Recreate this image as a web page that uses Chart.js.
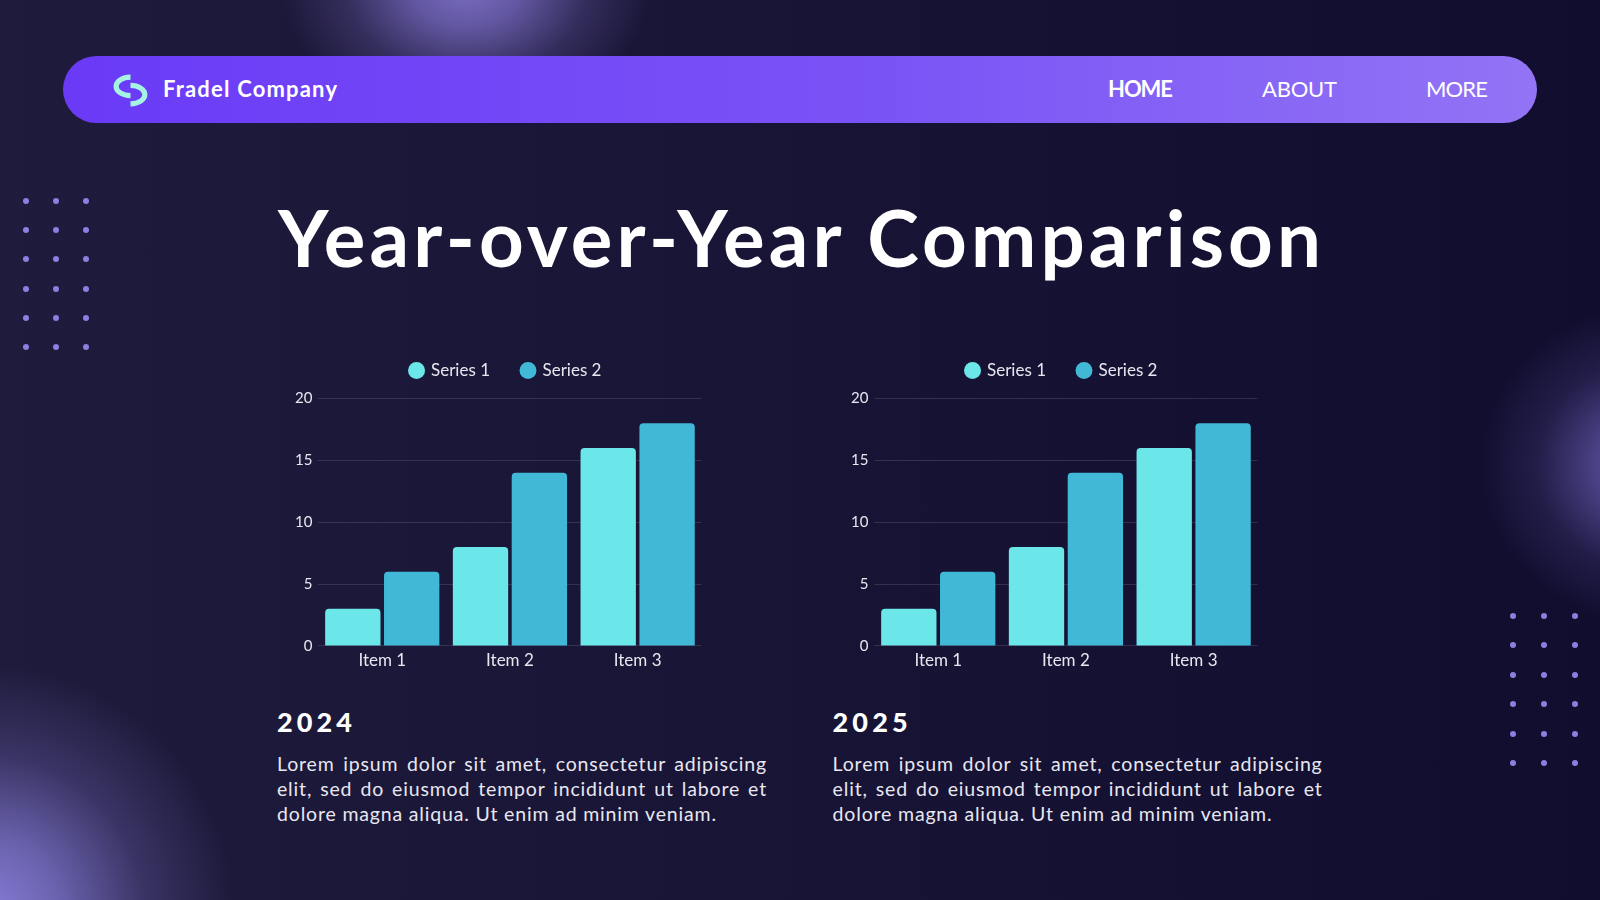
<!DOCTYPE html>
<html>
<head>
<meta charset="utf-8">
<title>Year-over-Year Comparison</title>
<script src="https://cdn.jsdelivr.net/npm/chart.js@4.4.1/dist/chart.umd.min.js"></script>
<style>
  html, body { margin: 0; padding: 0; }
  body {
    width: 1600px; height: 900px; overflow: hidden; position: relative;
    font-family: Lato, "Noto Sans", sans-serif; color: #fff;
    background:
      radial-gradient(ellipse 185px 140px at 467px -15px, rgba(128,114,205,0.95) 0%, rgba(128,114,205,0.7) 30%, rgba(128,114,205,0.25) 65%, rgba(128,114,205,0) 100%),
      radial-gradient(ellipse 250px 250px at -15px 915px, rgba(136,126,218,1) 0%, rgba(136,126,218,0.72) 30%, rgba(136,126,218,0.25) 65%, rgba(136,126,218,0) 100%),
      radial-gradient(ellipse 165px 160px at 1645px 465px, rgba(104,94,180,0.95) 0%, rgba(104,94,180,0.65) 30%, rgba(104,94,180,0.2) 65%, rgba(104,94,180,0) 100%),
      linear-gradient(90deg, #1f1b3c 0%, #181435 50%, #110d2e 100%);
  }
  .t { position: absolute; white-space: nowrap; display: inline-block; line-height: 1; }
  .nav {
    position: absolute; left: 63px; top: 56px; width: 1474px; height: 67px; border-radius: 34px;
    background: linear-gradient(90deg, #6a3af7 0%, #7a53f6 55%, #9274f5 100%);
  }
  .dot { position: absolute; width: 6px; height: 6px; border-radius: 50%; background: #8b80e2; }
  .chartBox { position: absolute; top: 320px; width: 470px; height: 370px; }
  .p { font-size: 19.5px; color: #e8e7f0; }
</style>
</head>
<body>
<div class="nav"></div>
<svg style="position:absolute;left:112px;top:73px" width="37" height="35" viewBox="0 0 36 34">
  <path d="M18 4 A14 9 0 0 0 18 22" fill="none" stroke="#a7f3e3" stroke-width="5"/>
  <path d="M18 12 A14 9 0 0 1 18 30" fill="none" stroke="#a7f3e3" stroke-width="5"/>
</svg>
<div class="t fit" data-w="174" style="left:163px;top:77.5px;font-size:22px;font-weight:700;">Fradel Company</div>
<div class="t fit" data-w="65" style="left:1108px;top:78.2px;font-size:22px;font-weight:700;">HOME</div>
<div class="t fit" data-w="75" style="left:1262px;top:78.2px;font-size:22px;font-weight:400;">ABOUT</div>
<div class="t fit" data-w="62" style="left:1426px;top:78.2px;font-size:22px;font-weight:400;">MORE</div>

<div class="t fit" data-w="1043" style="left:278px;top:197.8px;font-size:78px;font-weight:700;">Year-over-Year Comparison</div>

<div class="chartBox" style="left:270px"><canvas id="chart2024" width="470" height="370"></canvas></div>
<div class="chartBox" style="left:825.6px"><canvas id="chart2025" width="470" height="370"></canvas></div>

<div class="t fit" data-w="75" style="left:277px;top:708px;font-size:27px;font-weight:900;">2024</div>
<div class="t fit" data-w="75" style="left:832.6px;top:708px;font-size:27px;font-weight:900;">2025</div>

<div class="para" data-left="277"></div>
<div class="para" data-left="832.6"></div>

<script>
// chart data
const categories = ['Item 1', 'Item 2', 'Item 3'];
const seriesNames = ['Series 1', 'Series 2'];
const series1_2024 = [3, 8, 16];
const series2_2024 = [6, 14, 18];
const series1_2025 = [3, 8, 16];
const series2_2025 = [6, 14, 18];
const yTicks = [0, 5, 10, 15, 20];

const bodyLines = [
  'Lorem ipsum dolor sit amet, consectetur adipiscing',
  'elit, sed do eiusmod tempor incididunt ut labore et',
  'dolore magna aliqua. Ut enim ad minim veniam.'
];

const COLOR_S1 = '#6be6e9';
const COLOR_S2 = '#40b8d6';
const TEXT = '#e8e7f0';

// decorative dot grids
function dots(xs, y0, step) {
  for (let r = 0; r < 6; r++) {
    xs.forEach(x => {
      const d = document.createElement('div');
      d.className = 'dot';
      d.style.left = (x - 3) + 'px';
      d.style.top = (y0 + r * step - 3) + 'px';
      document.body.appendChild(d);
    });
  }
}
dots([25.7, 55.7, 86], 200.7, 29.3);
dots([1513, 1544, 1574.5], 616, 29.4);

// text width fitting (Raleway is not installed)
document.querySelectorAll('.fit').forEach(el => {
  const w = parseFloat(el.dataset.w);
  const r = el.getBoundingClientRect().width;
  el.style.letterSpacing = ((w - r) / (el.textContent.length - 1)) + 'px';
});

const baselines = [771.7, 796.7, 821.4];
document.querySelectorAll('.para').forEach(box => {
  const left = parseFloat(box.dataset.left);
  const els = bodyLines.map((txt, i) => {
    const el = document.createElement('div');
    el.className = 't p';
    el.textContent = txt;
    el.style.left = left + 'px';
    el.style.top = (baselines[i] - 0.887 * 19.5) + 'px';
    document.body.appendChild(el);
    return el;
  });
  // last line sets the letter spacing, the others are justified
  const last = els[2];
  const ls = (439 - last.getBoundingClientRect().width) / (last.textContent.length - 1);
  els.forEach(el => el.style.letterSpacing = ls + 'px');
  els.slice(0, 2).forEach(el => {
    const w = el.getBoundingClientRect().width;
    const spaces = el.textContent.split(' ').length - 1;
    el.style.wordSpacing = ((490 - w) / spaces) + 'px';
  });
});

// extra room between legend and plot
const legendGap = {
  id: 'legendGap',
  beforeInit(chart) {
    const fit = chart.legend.fit;
    chart.legend.fit = function () {
      fit.call(this);
      this.height += 9.5;
    };
  }
};

function buildChart(id, s1, s2) {
  return new Chart(document.getElementById(id), {
    type: 'bar',
    data: {
      labels: categories,
      datasets: [
        { label: seriesNames[0], data: s1, backgroundColor: COLOR_S1, borderRadius: 4, borderSkipped: 'start' },
        { label: seriesNames[1], data: s2, backgroundColor: COLOR_S2, borderRadius: 4, borderSkipped: 'start' }
      ]
    },
    plugins: [legendGap],
    options: {
      responsive: false,
      animation: false,
      categoryPercentage: 0.922,
      barPercentage: 0.94,
      layout: { padding: { left: 18.4, right: 16.4, top: 10, bottom: 15.7 } },
      plugins: {
        tooltip: { enabled: false },
        legend: {
          position: 'top',
          labels: {
            usePointStyle: true,
            pointStyle: 'circle',
            boxWidth: 12,
            boxHeight: 12,
            padding: 32,
            color: TEXT,
            font: { family: 'Lato', size: 17 }
          }
        }
      },
      scales: {
        x: {
          grid: { display: false, drawTicks: false },
          border: { display: false },
          ticks: { color: TEXT, padding: 4, font: { family: 'Lato', size: 17 } }
        },
        y: {
          min: 0,
          max: 20,
          afterBuildTicks(s) { s.ticks = yTicks.map(v => ({ value: v })); },
          afterFit(s) { s.width = 30; },
          grid: { color: 'rgba(255,255,255,0.12)', drawTicks: false },
          border: { display: false },
          ticks: { color: TEXT, padding: 6, font: { family: 'Lato', size: 15 } }
        },
        // empty right-hand spacer so the legend sits where it does in the original
        spacer: {
          type: 'linear',
          position: 'right',
          afterFit(s) { s.width = 22.1; },
          grid: { display: false, drawTicks: false },
          border: { display: false },
          ticks: { display: false }
        }
      }
    }
  });
}

buildChart('chart2024', series1_2024, series2_2024);
buildChart('chart2025', series1_2025, series2_2025);
</script>
</body>
</html>
